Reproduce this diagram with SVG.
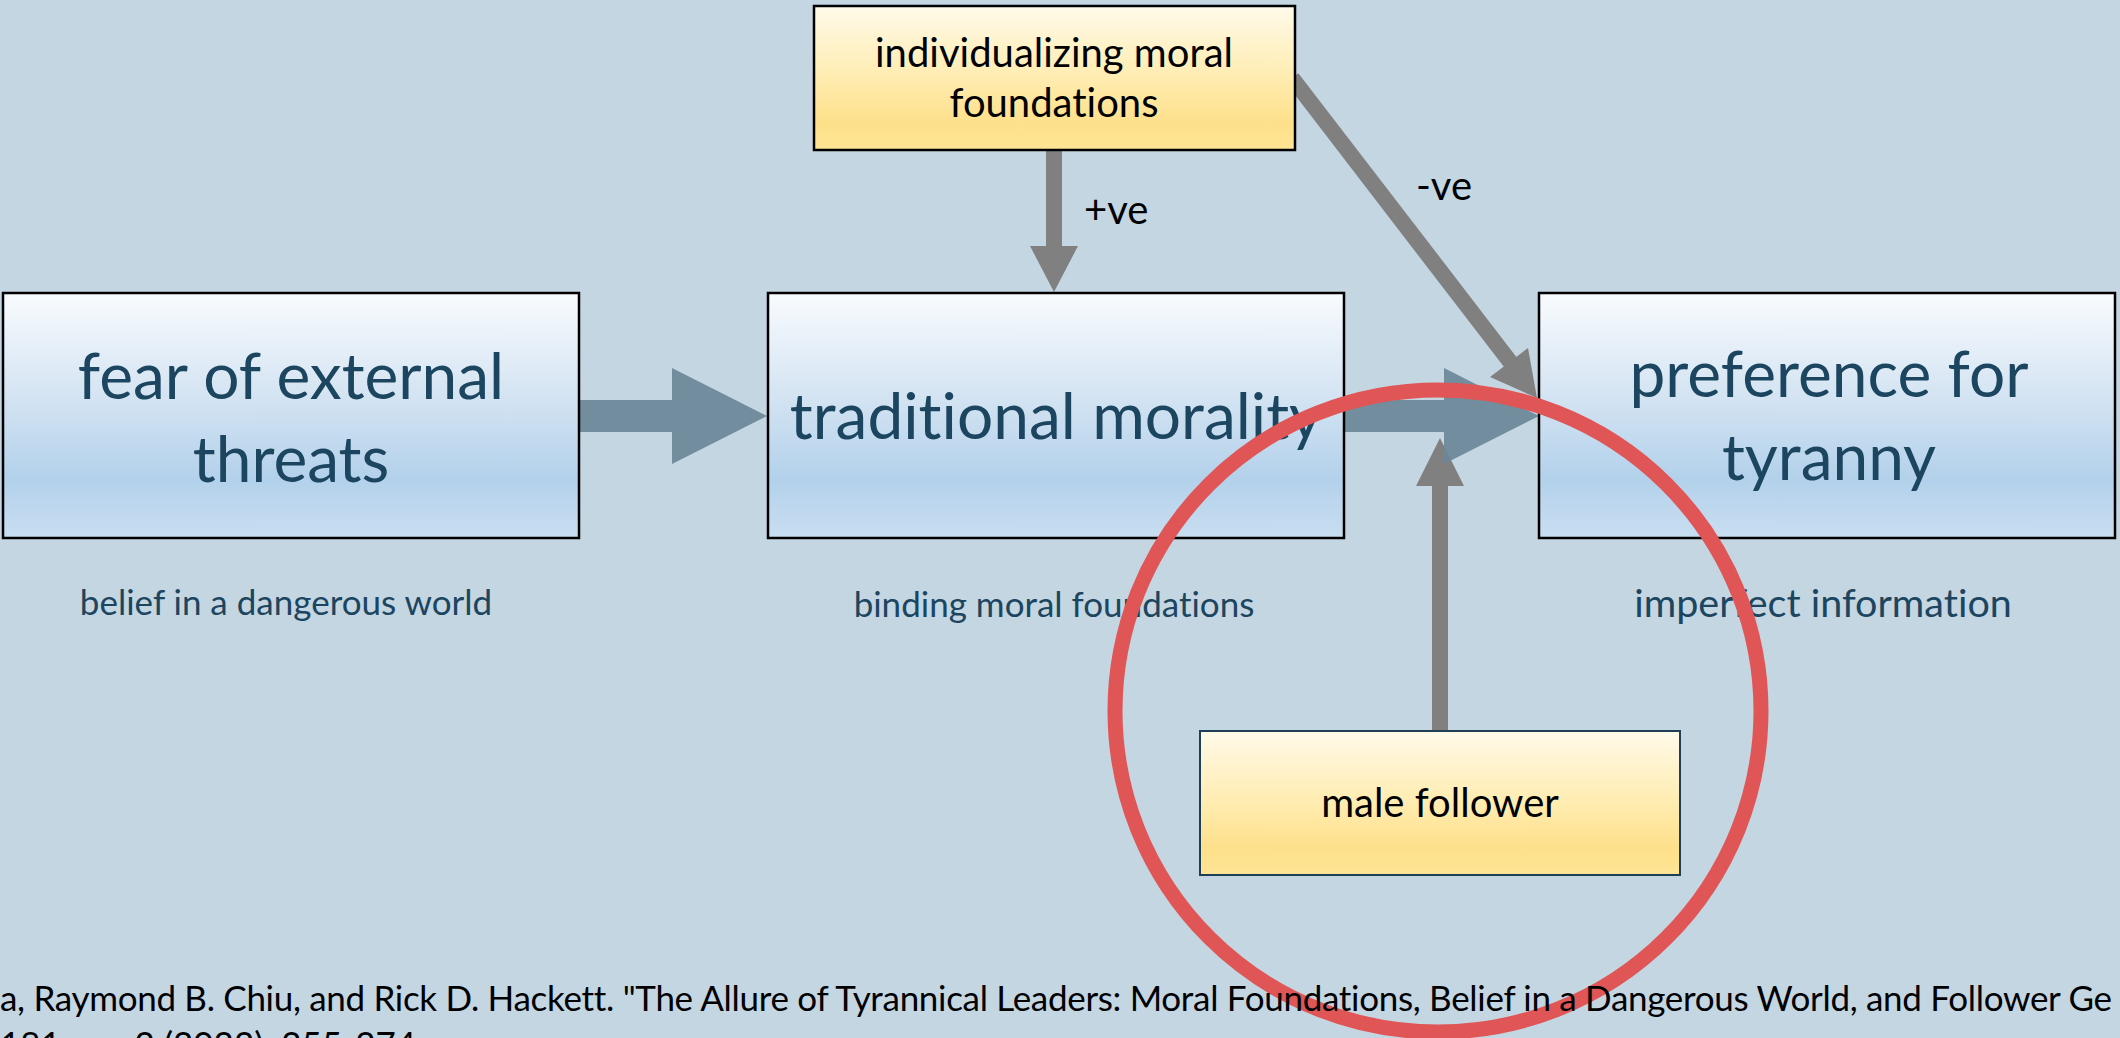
<svg xmlns="http://www.w3.org/2000/svg" width="2120" height="1038" viewBox="0 0 2120 1038">
<defs>
<linearGradient id="gBlue" x1="0" y1="0" x2="0" y2="1">
<stop offset="0" stop-color="#f8fbfe"/>
<stop offset="0.4" stop-color="#d6e5f3"/>
<stop offset="0.76" stop-color="#b3d1eb"/>
<stop offset="1" stop-color="#c9def1"/>
</linearGradient>
<linearGradient id="gYellow" x1="0" y1="0" x2="0" y2="1">
<stop offset="0" stop-color="#fffaea"/>
<stop offset="0.5" stop-color="#ffecb0"/>
<stop offset="0.82" stop-color="#fee08a"/>
<stop offset="1" stop-color="#fee595"/>
</linearGradient>
<style>
text{font-variant-ligatures:none;font-feature-settings:"liga" 0,"clig" 0}
.blue{fill:url(#gBlue);stroke:#000;stroke-width:2.5}
.yel{fill:url(#gYellow);stroke:#000;stroke-width:2.5}
.main{font-family:Lato,"Liberation Sans",sans-serif;font-size:64px;fill:#1c4560;text-anchor:middle}
.cap{font-family:Lato,"Liberation Sans",sans-serif;font-size:35px;fill:#1c4560;text-anchor:middle}
.blk{font-family:Lato,"Liberation Sans",sans-serif;font-size:40px;fill:#000;text-anchor:middle}
.lbl{font-family:Lato,"Liberation Sans",sans-serif;font-size:40px;fill:#000}
.cite{font-family:Lato,"Liberation Sans",sans-serif;font-size:35px;fill:#000}
.gray{fill:#808080}
.bluearrow{fill:#6a8797;fill-opacity:0.92}
</style>
</defs>
<rect width="2120" height="1038" fill="#c4d6e2"/>

<g id="connectors">
<rect class="gray" x="1432" y="484" width="16" height="247"/>
<polygon class="gray" points="1416,486 1464,486 1440,438"/>
<polygon class="bluearrow" points="579,400 672,400 672,368 767,416 672,464 672,432 579,432"/>
<polygon class="bluearrow" points="1344,400 1444,400 1444,368 1539,416 1444,464 1444,432 1344,432"/>
<rect class="gray" x="1046" y="150" width="16" height="97"/>
<polygon class="gray" points="1030,246 1078,246 1054,292"/>
<line x1="1292" y1="78" x2="1511" y2="363" stroke="#808080" stroke-width="16"/>
<polygon class="gray" points="1537,398 1490,377 1528,348"/>
<text class="lbl" x="1084" y="224">+ve</text>
<text class="lbl" x="1416" y="200">-ve</text>
</g>

<g id="node-fear">
<rect class="blue" x="3" y="293" width="576" height="245"/>
<text class="main" x="291" y="399">fear of external</text>
<text class="main" x="291" y="482">threats</text>
<text class="cap" x="286" y="615">belief in a dangerous world</text>
</g>

<g id="node-traditional">
<rect class="blue" x="768" y="293" width="576" height="245"/>
<text class="main" x="1056" y="439">traditional morality</text>
<text class="cap" x="1054" y="617">binding moral foundations</text>
</g>

<g id="node-tyranny">
<rect class="blue" x="1539" y="293" width="576" height="245"/>
<text class="main" x="1829" y="397">preference for</text>
<text class="main" x="1829" y="480">tyranny</text>
<text class="cap" x="1823" y="617" style="font-size:39.5px">imperfect information</text>
</g>

<g id="node-individualizing">
<rect class="yel" x="814" y="6" width="481" height="144"/>
<text class="blk" x="1054" y="67">individualizing moral</text>
<text class="blk" x="1054" y="117">foundations</text>
</g>

<g id="node-male">
<rect class="yel" x="1200" y="731" width="480" height="144" style="stroke:#1e3f55;stroke-width:2"/>
<text class="blk" x="1440" y="817">male follower</text>
</g>

<g id="highlight">
<ellipse cx="1438" cy="711" rx="323" ry="321" fill="none" stroke="#e05555" stroke-width="15"/>
</g>

<g id="citation">
<text class="cite" x="0" y="1011" textLength="2112" lengthAdjust="spacing">a, Raymond B. Chiu, and Rick D. Hackett. "The Allure of Tyrannical Leaders: Moral Foundations, Belief in a Dangerous World, and Follower Ge</text>
<text class="cite" x="0" y="1057">181, no. 2 (2022): 255-274.</text>
</g>
</svg>
